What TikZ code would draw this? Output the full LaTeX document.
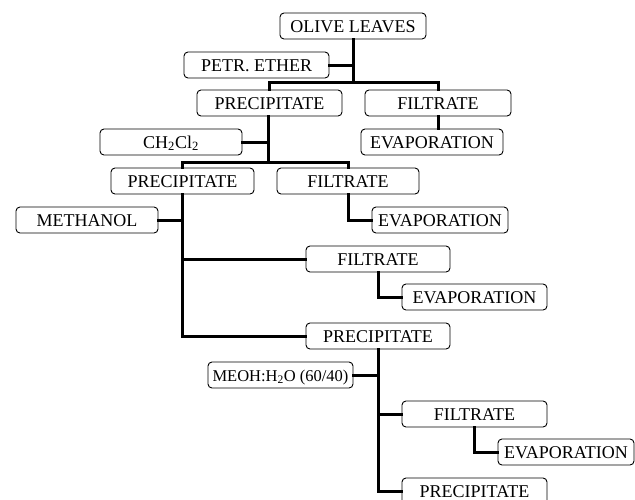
\documentclass[tikz,border=0pt]{standalone}
\usepackage{fontspec}
\setmainfont{Liberation Serif}
\begin{document}
\begin{tikzpicture}[x=1pt,y=-1pt,
  box/.style={draw, rounded corners=4pt, line width=0.9pt, inner sep=0pt,
    minimum height=26pt, text height=12pt, text depth=0pt,
    font=\fontsize{18}{20}\selectfont, align=center},
  conn/.style={line width=3pt, line join=miter, line cap=rect}]
\useasboundingbox (0,0) rectangle (635,499);
% nodes
\node[box, minimum width=146pt] (ol) at (353,26) {OLIVE LEAVES};
\node[box, minimum width=145pt] (pe) at (256.5,65) {PETR. ETHER};
\node[box, minimum width=145pt] (p1) at (269.5,103) {PRECIPITATE};
\node[box, minimum width=146pt] (f1) at (438,103) {FILTRATE};
\node[box, minimum width=142pt] (ch) at (171,142) {CH\textsubscript{2}Cl\textsubscript{2}};
\node[box, minimum width=142pt] (e1) at (432,142) {EVAPORATION};
\node[box, minimum width=143pt] (p2) at (182.5,181) {PRECIPITATE};
\node[box, minimum width=142pt] (f2) at (348,181) {FILTRATE};
\node[box, minimum width=142pt] (me) at (87,220) {METHANOL};
\node[box, minimum width=136pt] (e2) at (440,220) {EVAPORATION};
\node[box, minimum width=144pt] (f3) at (378,259) {FILTRATE};
\node[box, minimum width=145pt] (e3) at (474.5,297) {EVAPORATION};
\node[box, minimum width=144pt] (p3) at (378,336) {PRECIPITATE};
\node[box, minimum width=145pt, font=\fontsize{16.5}{18}\selectfont] (mw) at (280.5,375) {MEOH:H\textsubscript{2}O (60/40)};
\node[box, minimum width=145pt] (f4) at (474.5,414) {FILTRATE};
\node[box, minimum width=136pt] (e4) at (566,452) {EVAPORATION};
\node[box, minimum width=145pt] (p4) at (474.5,491) {PRECIPITATE};
% junctions
\coordinate (j1) at (353,82);
\coordinate (j2) at (268,162);
% connectors
\draw[conn] (ol.south) -- (j1);
\draw[conn] (pe.east) -- (pe.east -| j1);
\draw[conn] (p1.north) |- (j1) -| (f1.north);
\draw[conn] (j2 |- p1.south) -- (j2);
\draw[conn] (ch.east) -- (ch.east -| j2);
\draw[conn] (p2.north) |- (j2) -| (f2.north);
\draw[conn] (f1.south -| 438,0) -- (e1.north -| 438,0);
\draw[conn] (f2.south) |- (e2.west);
\draw[conn] (p2.south) |- (p3.west);
\draw[conn] (me.east) -- (me.east -| p2.south);
\draw[conn] (f3.west) -- (f3.west -| p2.south);
\draw[conn] (f3.south) |- (e3.west);
\draw[conn] (p3.south) |- (p4.west);
\draw[conn] (mw.east) -- (mw.east -| p3.south);
\draw[conn] (f4.west) -- (f4.west -| p3.south);
\draw[conn] (f4.south) |- (e4.west);
\end{tikzpicture}
\end{document}
